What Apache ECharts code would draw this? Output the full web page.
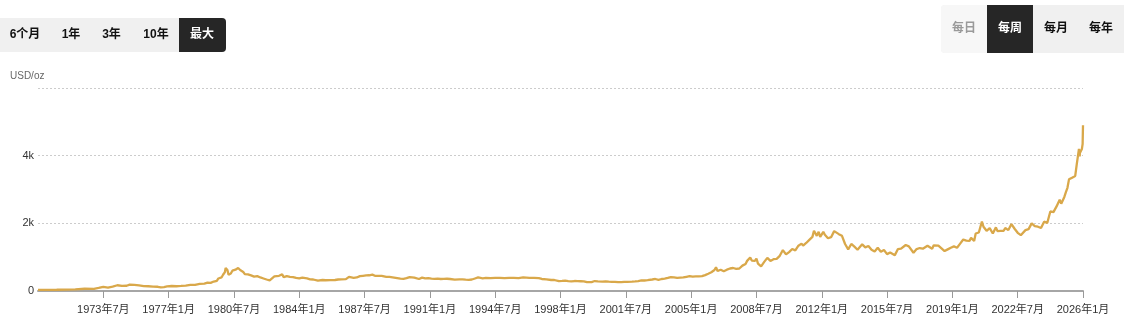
<!DOCTYPE html>
<html>
<head>
<meta charset="utf-8">
<script src="https://cdn.jsdelivr.net/npm/echarts@6/dist/echarts.min.js"></script>
<style>
html,body{margin:0;padding:0;background:#fff;}
#c{width:1124px;height:321px;}
</style>
</head>
<body>
<div id="c"></div>
<script>
// ---- data ----
var rangeButtons = ['6个月', '1年', '3年', '10年', '最大'];
var freqButtons = ['每日', '每周', '每月', '每年'];
var unitLabel = 'USD/oz';
var xTickMonths = [42, 84, 126, 168, 210, 252, 294, 336, 378, 420, 462, 504, 546, 588, 630, 672];
var dates = [
'1970-01','1970-07','1971-01','1971-07','1972-01','1972-07','1973-01','1973-04','1973-07','1973-10',
'1974-01','1974-04','1974-07','1974-10','1974-12','1975-03','1975-06','1975-09','1975-12','1976-03',
'1976-06','1976-08','1976-10','1976-12','1977-03','1977-06','1977-09','1977-12','1978-03','1978-06',
'1978-09','1978-10','1978-12','1979-02','1979-04','1979-06','1979-08','1979-09','1979-10','1979-11',
'1979-12','1980-01-07','1980-01-21','1980-02-04','1980-02-25','1980-03-17','1980-04-07','1980-05','1980-06','1980-07',
'1980-08','1980-09-22','1980-10','1980-11','1980-12','1981-01','1981-02','1981-03','1981-04','1981-05',
'1981-06','1981-07','1981-08','1981-09','1981-10','1981-11','1981-12','1982-02','1982-04','1982-06',
'1982-07','1982-09','1982-10','1982-12','1983-02','1983-03','1983-05','1983-07','1983-09','1983-11',
'1984-01','1984-03','1984-06','1984-08','1984-10','1985-01','1985-02','1985-04','1985-06','1985-09',
'1985-12','1986-02','1986-04','1986-07','1986-09','1986-10','1986-12','1987-02','1987-04','1987-06',
'1987-08','1987-10','1987-12','1988-02','1988-04','1988-06','1988-09','1988-11','1989-01','1989-03',
'1989-06','1989-08','1989-10','1989-12','1990-01','1990-03','1990-06','1990-08','1990-10','1990-12',
'1991-02','1991-04','1991-06','1991-08','1991-10','1991-12','1992-02','1992-05','1992-08','1992-10',
'1992-12','1993-02','1993-04','1993-06','1993-08','1993-09','1993-11','1994-01','1994-04','1994-07',
'1994-10','1995-01','1995-04','1995-07','1995-10','1996-01','1996-02','1996-05','1996-08','1996-11',
'1997-01','1997-04','1997-07','1997-09','1997-12','1998-02','1998-04','1998-06','1998-08','1998-10',
'1998-12','1999-02','1999-04','1999-06','1999-07','1999-09','1999-10','1999-11','2000-01','2000-02',
'2000-04','2000-06','2000-08','2000-10','2000-12','2001-02','2001-04','2001-06','2001-08','2001-09',
'2001-11','2002-01','2002-03','2002-05','2002-07','2002-09','2002-12','2003-02','2003-04','2003-06',
'2003-08','2003-10','2003-12','2004-02','2004-04','2004-06','2004-08','2004-10','2004-12','2005-02',
'2005-04','2005-06','2005-08','2005-10','2005-12','2006-02','2006-04','2006-05','2006-06','2006-08',
'2006-10','2006-12','2007-02','2007-04','2007-06','2007-08','2007-10','2007-12','2008-01','2008-03',
'2008-04','2008-06','2008-07','2008-08','2008-10','2008-11','2008-12','2009-02','2009-04','2009-06',
'2009-08','2009-10','2009-12','2010-02','2010-04','2010-06','2010-08','2010-10','2010-12','2011-01',
'2011-03','2011-05','2011-07','2011-08','2011-09-05','2011-09-26','2011-11','2011-12','2012-02','2012-03',
'2012-05','2012-07','2012-09','2012-10','2012-12','2013-02','2013-04','2013-06','2013-08','2013-10',
'2013-12','2014-03','2014-05','2014-07','2014-09','2014-11','2015-01','2015-03','2015-05','2015-07',
'2015-09','2015-12','2016-02','2016-04','2016-07','2016-09','2016-12','2017-02','2017-04','2017-06',
'2017-09','2017-12','2018-01','2018-04','2018-06','2018-08','2018-10','2018-12','2019-02','2019-04',
'2019-06','2019-08','2019-10','2019-12','2020-01','2020-03','2020-04','2020-06','2020-08','2020-09',
'2020-11','2021-01','2021-03','2021-05','2021-06','2021-08','2021-10','2021-11','2022-01','2022-03',
'2022-05','2022-07','2022-09','2022-10','2022-12','2023-02','2023-04','2023-05','2023-06','2023-08',
'2023-10','2023-12','2024-02','2024-03','2024-04','2024-06','2024-08','2024-10','2024-11','2024-12',
'2025-01','2025-02','2025-03','2025-04','2025-05','2025-06','2025-07','2025-08','2025-09','2025-10-13',
'2025-10-27','2025-11','2025-12-10','2025-12-24','2026-01-01'
];
var prices = [
35,35.5,37.5,41,46,66,65,90,120,100,
130,170,150,155,190,178,165,142,140,132,
125,104,117,134,148,141,150,160,183,183,
212,240,220,250,240,280,300,370,390,400,
480,560,680,650,620,480,520,515,600,640,
630,680,660,620,590,560,500,480,490,480,
460,410,425,440,440,410,400,370,340,315,
340,430,420,450,490,410,440,420,410,385,
370,395,375,345,340,305,300,325,318,320,
325,340,345,350,420,430,390,400,440,450,
460,465,485,445,450,450,420,420,405,390,
365,360,380,410,415,395,355,395,375,380,
365,358,368,355,358,362,355,338,345,345,
335,330,340,370,400,355,375,385,380,385,
390,380,390,387,383,400,410,390,387,378,
355,345,325,325,290,298,308,295,285,295,
292,288,282,262,255,265,310,295,285,300,
280,285,275,270,272,262,260,270,272,285,
276,282,295,315,310,320,340,355,330,355,
365,385,410,405,390,395,400,420,440,425,
430,435,440,470,510,555,620,700,590,630,
585,630,665,680,655,665,750,800,890,990,
900,890,960,810,730,760,860,980,890,940,
950,1040,1210,1080,1150,1240,1200,1340,1400,1340,
1420,1510,1600,1780,1830,1630,1750,1600,1750,1660,
1560,1590,1770,1750,1680,1630,1390,1230,1390,1310,
1220,1380,1290,1330,1220,1170,1280,1160,1210,1090,
1140,1060,1240,1250,1360,1320,1130,1240,1270,1250,
1340,1250,1350,1340,1260,1180,1230,1280,1320,1280,
1400,1520,1490,1480,1570,1480,1700,1730,2050,1900,
1780,1860,1700,1880,1770,1780,1780,1860,1800,1980,
1840,1720,1650,1640,1800,1830,2000,2020,1920,1900,
1860,2050,2010,2180,2350,2330,2500,2700,2580,2620,
2780,2920,3050,3300,3250,3350,3330,3400,3750,4200,
3980,4080,4200,4350,4900
];
var yTicks = [0, 2000, 4000, 6000];

function toMonthIndex(s) {
  var p = s.split('-');
  var y = +p[0], m = +p[1], d = p[2] ? +p[2] : 1;
  return (y - 1970) * 12 + (m - 1) + (d - 1) / 30;
}
var seriesData = dates.map(function (d, i) { return [toMonthIndex(d), prices[i]]; });

var FONT = '"Liberation Sans", Arial, "Noto Sans CJK SC", sans-serif';

// ---- buttons (graphic) ----
var graphics = [];
graphics.push({ type: 'rect', shape: { x: 0, y: 18, width: 226, height: 34, r: [0, 4, 4, 0] }, style: { fill: '#f0f0f0' }, silent: true });
var leftCenters = [25, 71, 111.5, 156, 202];
graphics.push({ type: 'rect', shape: { x: 179, y: 18, width: 47, height: 34, r: [0, 4, 4, 0] }, style: { fill: '#262626' }, silent: true });
rangeButtons.forEach(function (t, i) {
  graphics.push({ type: 'text', x: leftCenters[i], y: 35, style: { text: t, align: 'center', verticalAlign: 'middle', font: 'bold 12px ' + FONT, fill: i === 4 ? '#ffffff' : '#111111' }, silent: true });
});
graphics.push({ type: 'rect', shape: { x: 941, y: 5, width: 183, height: 48, r: [4, 0, 0, 4] }, style: { fill: '#f0f0f0' }, silent: true });
graphics.push({ type: 'rect', shape: { x: 941, y: 5, width: 46, height: 48, r: [4, 0, 0, 4] }, style: { fill: '#f7f7f7' }, silent: true });
graphics.push({ type: 'rect', shape: { x: 987, y: 5, width: 46, height: 48 }, style: { fill: '#262626' }, silent: true });
var rightCenters = [964, 1010, 1056, 1101];
var rightColors = ['#9a9a9a', '#ffffff', '#111111', '#111111'];
freqButtons.forEach(function (t, i) {
  graphics.push({ type: 'text', x: rightCenters[i], y: 29, style: { text: t, align: 'center', verticalAlign: 'middle', font: 'bold 12px ' + FONT, fill: rightColors[i] }, silent: true });
});
graphics.push({ type: 'text', x: 10, y: 76, style: { text: unitLabel, align: 'left', verticalAlign: 'middle', font: '10px ' + FONT, fill: '#666666' }, silent: true });

var chart = echarts.init(document.getElementById('c'), null, { renderer: 'canvas' });
chart.setOption({
  animation: false,
  backgroundColor: '#ffffff',
  textStyle: { fontFamily: FONT },
  grid: { left: 38, right: 41, top: 88, bottom: 30, containLabel: false },
  graphic: graphics,
  xAxis: {
    type: 'value',
    min: 0, max: 672, interval: 42,
    axisLine: { show: true, lineStyle: { color: '#a6a6a6', width: 2 } },
    axisTick: { show: true, length: 7, customValues: xTickMonths, lineStyle: { color: '#999999', width: 1 } },
    splitLine: { show: false },
    axisLabel: {
      color: '#333333', fontSize: 11, fontFamily: FONT, margin: 13,
      customValues: xTickMonths,
      formatter: function (v) {
        var y = 1970 + Math.floor(v / 12);
        var m = Math.round(v % 12) + 1;
        return y + '年' + m + '月';
      }
    }
  },
  yAxis: {
    type: 'value',
    min: yTicks[0], max: yTicks[yTicks.length - 1], interval: 2000,
    axisLine: { show: false },
    axisTick: { show: false },
    splitLine: { show: true, lineStyle: { color: '#cccccc', width: 1, type: [2, 2] } },
    axisLabel: {
      color: '#333333', fontSize: 11, fontFamily: FONT, margin: 4,
      formatter: function (v) {
        if (v === 6000) return '';
        return v === 0 ? '0' : (v / 1000) + 'k';
      }
    }
  },
  series: [{
    type: 'line',
    data: seriesData,
    showSymbol: false,
    symbol: 'none',
    lineStyle: { color: '#d9a84a', width: 2.3 },
    itemStyle: { color: '#d9a84a' }
  }]
});
</script>
</body>
</html>
